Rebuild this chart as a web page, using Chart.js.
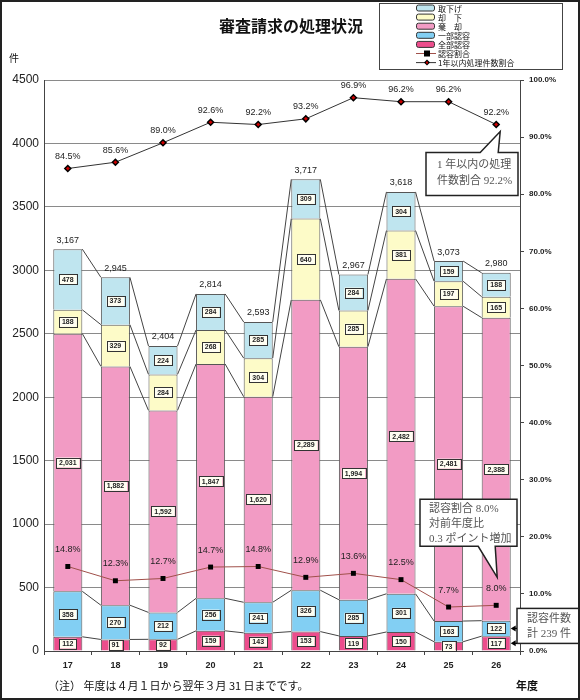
<!DOCTYPE html>
<html>
<head>
<meta charset="utf-8">
<script src="https://cdn.jsdelivr.net/npm/chart.js@4.4.1/dist/chart.umd.min.js"></script>
<style>
  html, body { margin: 0; padding: 0; background: #fff; }
  #wrap { width: 580px; height: 700px; }
</style>
</head>
<body>
<div id="wrap"><canvas id="chart" width="580" height="700"></canvas></div>
<script>
const years = ['17', '18', '19', '20', '21', '22', '23', '24', '25', '26'];
const fullApproval = [112, 91, 92, 159, 143, 153, 119, 150, 73, 117];
const partialApproval = [358, 270, 212, 256, 241, 326, 285, 301, 163, 122];
const dismissed = [2031, 1882, 1592, 1847, 1620, 2289, 1994, 2482, 2481, 2388];
const rejected = [188, 329, 284, 268, 304, 640, 285, 381, 197, 165];
const withdrawn = [478, 373, 224, 284, 285, 309, 284, 304, 159, 188];
const totals = [3167, 2945, 2404, 2814, 2593, 3717, 2967, 3618, 3073, 2980];
const approvalRate = [14.8, 12.3, 12.7, 14.7, 14.8, 12.9, 13.6, 12.5, 7.7, 8.0];
const withinYearRate = [84.5, 85.6, 89.0, 92.6, 92.2, 93.2, 96.9, 96.2, 96.2, 92.2];

const countMax = 4500, countStep = 500;
const rateMax = 100, rateStep = 10;

const JP = "'Noto Sans CJK JP', sans-serif";
const JP_SERIF = "'Liberation Serif', 'Noto Sans CJK JP', serif";
Chart.defaults.font.family = "'Liberation Sans', Arial, sans-serif";

const colors = {
  full: '#ec4d8c',
  partial: '#82cff3',
  dismissed: '#f29bc4',
  rejected: '#fdfbc8',
  withdrawn: '#bfe5ef'
};

const barStyle = { borderColor: '#555', borderWidth: 1, barPercentage: 0.61, categoryPercentage: 1, yAxisID: 'y', order: 2 };

function fmt(n) { return n.toLocaleString('en-US'); }

function labelBox(ctx, text, x, y) {
  ctx.font = 'bold 7px Arial, sans-serif';
  const w = ctx.measureText(text).width + 6;
  const h = 10;
  ctx.fillStyle = '#fffef2';
  ctx.fillRect(x - w / 2, y - h / 2, w, h);
  ctx.strokeStyle = '#333';
  ctx.lineWidth = 1;
  ctx.strokeRect(Math.round(x - w / 2) + 0.5, Math.round(y - h / 2) + 0.5, Math.round(w), h);
  ctx.fillStyle = '#222';
  ctx.textAlign = 'center';
  ctx.textBaseline = 'middle';
  ctx.fillText(text, x, y + 0.5);
}

// lines joining the segment tops of neighbouring bars
const connectorPlugin = {
  id: 'connectors',
  beforeDatasetsDraw(chart) {
    const ctx = chart.ctx;
    ctx.save();
    ctx.strokeStyle = '#444';
    ctx.lineWidth = 1;
    for (let d = 0; d < 5; d++) {
      const els = chart.getDatasetMeta(d).data;
      for (let i = 0; i < els.length - 1; i++) {
        const a = els[i], b = els[i + 1];
        ctx.beginPath();
        ctx.moveTo(a.x + a.width / 2, a.y);
        ctx.lineTo(b.x - b.width / 2, b.y);
        ctx.stroke();
      }
    }
    ctx.restore();
  }
};

const decorPlugin = {
  id: 'decor',
  afterDatasetsDraw(chart) {
    const ctx = chart.ctx;
    const area = chart.chartArea;
    ctx.save();

    // segment value boxes
    for (let d = 0; d < 5; d++) {
      const meta = chart.getDatasetMeta(d);
      const vals = chart.data.datasets[d].data;
      meta.data.forEach((el, i) => {
        labelBox(ctx, fmt(vals[i]), el.x, (el.y + el.base) / 2);
      });
    }

    // totals above bars
    ctx.font = '9px Arial, sans-serif';
    ctx.fillStyle = '#222';
    ctx.textAlign = 'center';
    ctx.textBaseline = 'middle';
    chart.getDatasetMeta(4).data.forEach((el, i) => {
      ctx.fillText(fmt(totals[i]), el.x, el.y - 9);
    });

    // line point labels
    chart.getDatasetMeta(6).data.forEach((p, i) => {
      ctx.fillText(withinYearRate[i].toFixed(1) + '%', p.x, p.y - 12);
    });
    chart.getDatasetMeta(5).data.forEach((p, i) => {
      ctx.fillText(approvalRate[i].toFixed(1) + '%', p.x, p.y - 17);
    });

    // callout 1
    const p1 = chart.getDatasetMeta(6).data[9];
    const tip1 = { x: p1.x + 4, y: p1.y + 7 };
    const b1 = { x: area.right - 94, y: tip1.y + 21, w: 92, h: 43 };
    ctx.beginPath();
    ctx.moveTo(b1.x, b1.y);
    ctx.lineTo(tip1.x - 20, b1.y);
    ctx.lineTo(tip1.x, tip1.y);
    ctx.lineTo(tip1.x - 2, b1.y);
    ctx.lineTo(b1.x + b1.w, b1.y);
    ctx.lineTo(b1.x + b1.w, b1.y + b1.h);
    ctx.lineTo(b1.x, b1.y + b1.h);
    ctx.closePath();
    ctx.fillStyle = '#fff';
    ctx.fill();
    ctx.strokeStyle = '#222';
    ctx.lineWidth = 1.5;
    ctx.stroke();
    ctx.fillStyle = '#555';
    ctx.font = '11px ' + JP_SERIF;
    ctx.textAlign = 'left';
    ctx.fillText('1 年以内の処理', b1.x + 11, b1.y + 13);
    ctx.fillText('件数割合 92.2%', b1.x + 11, b1.y + 29);

    // callout 2
    const p2 = chart.getDatasetMeta(5).data[9];
    const tip2 = { x: p2.x + 1, y: p2.y - 28 };
    const b2 = { x: area.right - 100, y: tip2.y - 78, w: 97, h: 47 };
    ctx.beginPath();
    ctx.moveTo(b2.x, b2.y);
    ctx.lineTo(b2.x + b2.w, b2.y);
    ctx.lineTo(b2.x + b2.w, b2.y + b2.h);
    ctx.lineTo(tip2.x - 2, b2.y + b2.h);
    ctx.lineTo(tip2.x, tip2.y);
    ctx.lineTo(tip2.x - 19, b2.y + b2.h);
    ctx.lineTo(b2.x, b2.y + b2.h);
    ctx.closePath();
    ctx.fillStyle = '#fff';
    ctx.fill();
    ctx.strokeStyle = '#222';
    ctx.stroke();
    ctx.fillStyle = '#555';
    ctx.font = '11px ' + JP_SERIF;
    ctx.fillText('認容割合 8.0%', b2.x + 9, b2.y + 10);
    ctx.fillText('対前年度比', b2.x + 9, b2.y + 25);
    ctx.fillText('0.3 ポイント増加', b2.x + 9, b2.y + 40);

    // callout 3 with arrows
    const eFull = chart.getDatasetMeta(0).data[9];
    const ePart = chart.getDatasetMeta(1).data[9];
    const yPart = (ePart.y + ePart.base) / 2;
    const yFull = (eFull.y + eFull.base) / 2;
    const b3 = { x: area.right - 3, y: yPart - 20, w: 70, h: 35 };
    ctx.fillStyle = '#fff';
    ctx.fillRect(b3.x, b3.y, b3.w, b3.h);
    ctx.strokeStyle = '#222';
    ctx.strokeRect(b3.x, b3.y, b3.w, b3.h);
    ctx.fillStyle = '#555';
    ctx.fillText('認容件数', b3.x + 10, b3.y + 11);
    ctx.fillText('計 239 件', b3.x + 10, b3.y + 26);
    [yPart, yFull].forEach(yy => {
      const x0 = ePart.x + ePart.width / 2;
      ctx.strokeStyle = '#000';
      ctx.lineWidth = 1.2;
      ctx.beginPath();
      ctx.moveTo(b3.x, yy);
      ctx.lineTo(x0 + 3, yy);
      ctx.stroke();
      ctx.fillStyle = '#000';
      ctx.beginPath();
      ctx.moveTo(x0, yy);
      ctx.lineTo(x0 + 5, yy - 3);
      ctx.lineTo(x0 + 5, yy + 3);
      ctx.closePath();
      ctx.fill();
    });

    ctx.restore();
  },
  afterDraw(chart) {
    const ctx = chart.ctx;
    ctx.save();

    // title
    ctx.fillStyle = '#111';
    ctx.font = 'bold 16px ' + JP;
    ctx.textAlign = 'center';
    ctx.textBaseline = 'middle';
    ctx.fillText('審査請求の処理状況', 291, 26);

    // legend
    ctx.strokeStyle = '#444';
    ctx.lineWidth = 1;
    ctx.strokeRect(379.5, 3.5, 183, 66);
    const entries = [
      ['取下げ', colors.withdrawn, 'bar'],
      ['却　下', colors.rejected, 'bar'],
      ['棄　却', colors.dismissed, 'bar'],
      ['一部認容', colors.partial, 'bar'],
      ['全部認容', colors.full, 'bar'],
      ['認容割合', '#a0504a', 'square'],
      ['1年以内処理件数割合', '#333', 'diamond']
    ];
    ctx.textAlign = 'left';
    ctx.font = '8px ' + JP;
    entries.forEach((e, i) => {
      const y = 8 + i * 9.1;
      if (e[2] === 'bar') {
        ctx.fillStyle = e[1];
        ctx.beginPath();
        ctx.roundRect(416.5, y - 3, 18, 6, 2);
        ctx.fill();
        ctx.strokeStyle = '#333';
        ctx.stroke();
      } else {
        ctx.strokeStyle = e[1];
        ctx.beginPath();
        ctx.moveTo(416, y);
        ctx.lineTo(436, y);
        ctx.stroke();
        ctx.fillStyle = '#000';
        if (e[2] === 'square') {
          ctx.fillRect(424, y - 3, 6, 6);
        } else {
          ctx.beginPath();
          ctx.moveTo(427, y - 3);
          ctx.lineTo(430, y);
          ctx.lineTo(427, y + 3);
          ctx.lineTo(424, y);
          ctx.closePath();
          ctx.fill();
          ctx.fillStyle = '#c00';
          ctx.fillRect(426, y - 1, 2, 2);
        }
      }
      ctx.fillStyle = '#111';
      ctx.fillText(e[0], 438, y + 0.5);
    });

    // axis unit and notes
    ctx.font = '10px ' + JP;
    ctx.fillText('件', 9, 58);
    ctx.font = '11px ' + JP;
    ctx.fillText('（注） 年度は４月１日から翌年３月 31 日までです。', 48, 686);
    ctx.font = 'bold 11px ' + JP;
    ctx.fillText('年度', 516, 686);

    // outer frame
    ctx.strokeStyle = '#222';
    ctx.lineWidth = 2;
    ctx.strokeRect(1, 1, 578, 698);
    ctx.restore();
  }
};

new Chart(document.getElementById('chart'), {
  data: {
    labels: years,
    datasets: [
      { type: 'bar', label: '全部認容', data: fullApproval, backgroundColor: colors.full, ...barStyle },
      { type: 'bar', label: '一部認容', data: partialApproval, backgroundColor: colors.partial, ...barStyle },
      { type: 'bar', label: '棄却', data: dismissed, backgroundColor: colors.dismissed, ...barStyle },
      { type: 'bar', label: '却下', data: rejected, backgroundColor: colors.rejected, ...barStyle },
      { type: 'bar', label: '取下げ', data: withdrawn, backgroundColor: colors.withdrawn, ...barStyle },
      {
        type: 'line', label: '認容割合', data: approvalRate, yAxisID: 'y2', order: 0,
        borderColor: '#a0504a', borderWidth: 1, pointStyle: 'rect', pointRadius: 3.5,
        pointBackgroundColor: '#000', pointBorderColor: '#000', pointBorderWidth: 0
      },
      {
        type: 'line', label: '1年以内処理件数割合', data: withinYearRate, yAxisID: 'y2', order: 0,
        borderColor: '#333', borderWidth: 1, pointStyle: 'rectRot', pointRadius: 3,
        pointBackgroundColor: '#c00', pointBorderColor: '#000', pointBorderWidth: 1.5
      }
    ]
  },
  options: {
    responsive: false,
    animation: false,
    devicePixelRatio: 1,
    layout: { padding: { top: 80, left: 0, right: 0, bottom: 0 } },
    plugins: { legend: { display: false }, title: { display: false }, tooltip: { enabled: false } },
    scales: {
      x: {
        stacked: true,
        offset: true,
        grid: { drawOnChartArea: false, drawTicks: true, tickLength: 4, color: '#444', offset: true },
        border: { color: '#444' },
        ticks: { color: '#222', font: { size: 9, weight: 'bold' }, padding: 5 },
        afterFit: s => { s.height = 49; }
      },
      y: {
        stacked: true,
        min: 0, max: countMax,
        ticks: { stepSize: countStep, color: '#222', font: { size: 12 }, padding: 5,
                 callback: v => String(v) },
        grid: { color: '#8a8a8a', drawTicks: false },
        border: { color: '#444' },
        afterFit: s => { s.width = 44; }
      },
      y2: {
        position: 'right',
        min: 0, max: rateMax,
        ticks: { stepSize: rateStep, color: '#222', font: { size: 8, weight: 'bold' }, padding: 5,
                 callback: v => v.toFixed(1) + '%' },
        grid: { drawOnChartArea: false, tickLength: 4, color: '#444' },
        border: { color: '#444' },
        afterFit: s => { s.width = 60; }
      }
    }
  },
  plugins: [connectorPlugin, decorPlugin]
});
</script>
</body>
</html>
